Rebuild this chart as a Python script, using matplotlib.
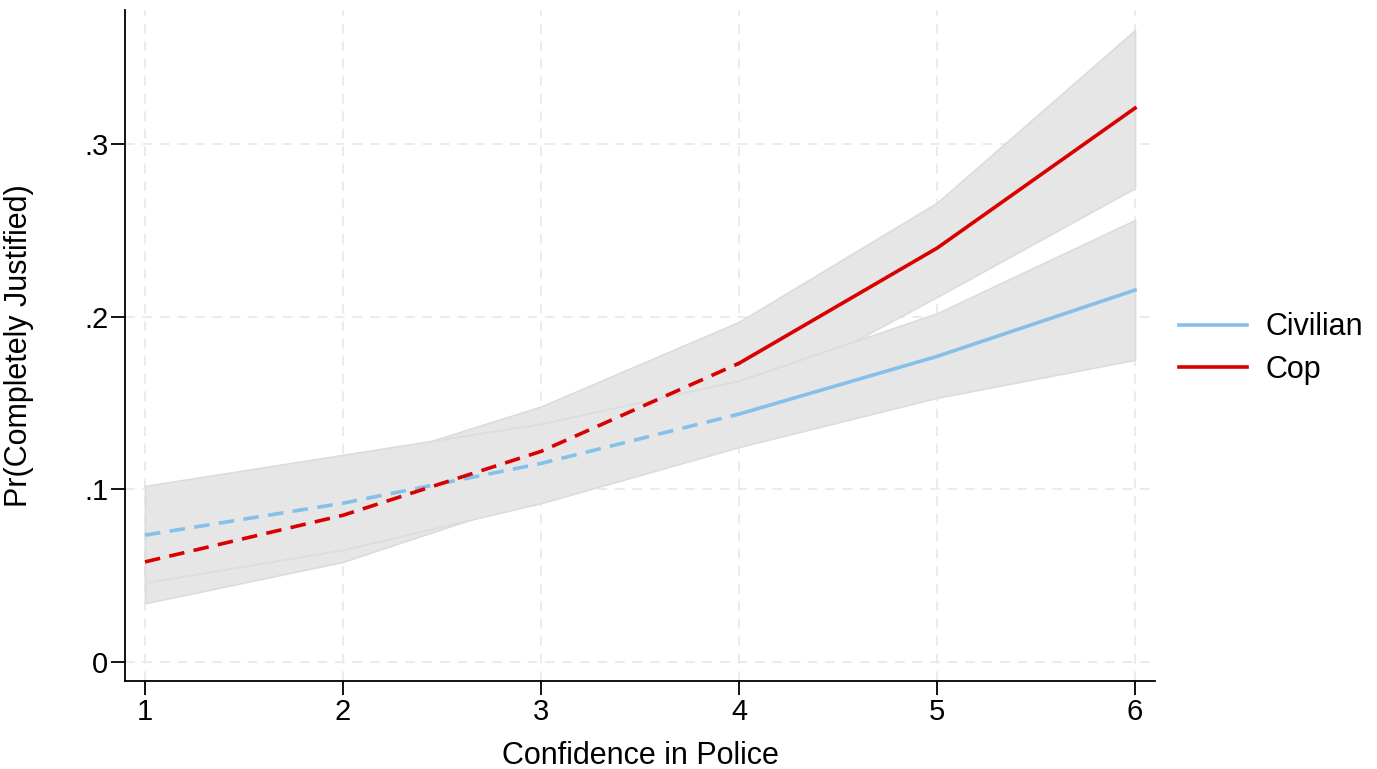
import matplotlib.pyplot as plt
import numpy as np

plt.rcParams['font.family'] = ['Liberation Sans', 'DejaVu Sans']

# Vertrauen in Polizei (1-6)
x = np.array([1, 2, 3, 4, 5, 6])

civ = np.array([0.0735, 0.092, 0.115, 0.1436, 0.177, 0.2154])
civ_lo = np.array([0.046, 0.065, 0.092, 0.1245, 0.153, 0.175])
civ_hi = np.array([0.102, 0.120, 0.138, 0.163, 0.202, 0.256])

cop = np.array([0.058, 0.085, 0.122, 0.173, 0.2397, 0.3208])
cop_lo = np.array([0.034, 0.058, 0.096, 0.150, 0.2114, 0.2745])
cop_hi = np.array([0.082, 0.112, 0.148, 0.197, 0.266, 0.366])

labels = ['Civilian', 'Cop']
yticks = [0, 0.1, 0.2, 0.3]
yticklabels = ['0', '.1', '.2', '.3']

col_civ = '#85c0e9'
col_cop = '#d90000'

fig = plt.figure(figsize=(13.77, 7.69), dpi=100)
ax = fig.add_axes([0.0908, 0.1144, 0.748, 0.8726])

# Konfidenzbaender (Cop zuerst, Civilian darueber)
for lo, hi in [(cop_lo, cop_hi), (civ_lo, civ_hi)]:
    ax.fill_between(x, lo, hi, facecolor='#e6e6e6', edgecolor='#dcdcdc',
                    linewidth=1.2, zorder=1)

# gestrichelt bis 4, durchgezogen ab 4
split = 4
for y, c, lab in [(civ, col_civ, labels[0]), (cop, col_cop, labels[1])]:
    ax.plot(x[:split], y[:split], color=c, lw=2.6, ls=(0, (4.3, 2.6)), zorder=3)
    ax.plot(x[split - 1:], y[split - 1:], color=c, lw=2.6, zorder=3, label=lab)

ax.set_xlim(0.899, 6.101)
ax.set_ylim(-0.011, 0.3776)
ax.set_xticks(x)
ax.set_yticks(yticks)
ax.set_yticklabels(yticklabels)
ax.grid(True, color='#ebebeb', ls=(0, (5, 4)), lw=1.4, zorder=0)
ax.set_axisbelow(True)

for s in ['top', 'right']:
    ax.spines[s].set_visible(False)
ax.tick_params(labelsize=21, length=10, width=1.3, direction='out', pad=2)
ax.spines['left'].set_linewidth(1.3)
ax.spines['bottom'].set_linewidth(1.3)

ax.set_xlabel('Confidence in Police', fontsize=22, labelpad=11)
ax.set_ylabel('Pr(Completely Justified)', fontsize=22, labelpad=36)

ax.legend(loc='center left', bbox_to_anchor=(1.011, 0.4955), frameon=False,
          fontsize=22, handlelength=2.25, handletextpad=0.6, labelspacing=0.4,
          borderaxespad=0)

fig.savefig('out.png', dpi=100)
